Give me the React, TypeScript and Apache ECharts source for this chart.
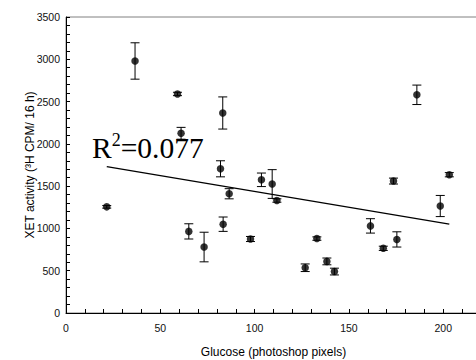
import React, { useEffect, useRef } from "react";
import * as echarts from "echarts";

// Glucose (photoshop pixels) for each sample
const glucose = [21.6, 36.6, 59.1, 61.0, 65.1, 73.2, 81.9, 83.1, 83.3, 86.5, 97.8, 103.6, 109.3, 111.8, 126.8, 133.0, 138.3, 142.3, 161.4, 168.2, 173.6, 175.4, 186.0, 198.4, 203.2];
// XET activity (3H CPM / 16 h)
const xet = [1255, 2980, 2590, 2125, 965, 780, 1705, 2365, 1050, 1410, 875, 1575, 1525, 1330, 535, 880, 610, 490, 1030, 765, 1560, 870, 2580, 1265, 1635];
// Error (±) for each value
const xetErr = [15, 215, 20, 70, 90, 175, 95, 190, 85, 60, 30, 80, 170, 20, 45, 20, 40, 40, 85, 25, 35, 90, 115, 125, 25];

// Linear fit endpoints
const fitX = [21.6, 203.2];
const fitY = [1731, 1052];

const r2Anchor = [13.8, 1957];

const xTickLabels = [0, 50, 100, 150, 200];
const yTickLabels = [0, 500, 1000, 1500, 2000, 2500, 3000, 3500];

const sansFont = "Liberation Sans, Arial, Helvetica, sans-serif";
const serifFont = "Liberation Serif, Times New Roman, serif";

export default function App() {
  const ref = useRef<HTMLDivElement>(null);

  useEffect(() => {
    if (!ref.current) return;
    const chart = echarts.init(ref.current, null, { renderer: "svg" });

    const points = glucose.map((g, i) => [g, xet[i]]);
    const errData = glucose.map((g, i) => [g, xet[i] - xetErr[i], xet[i] + xetErr[i]]);
    const fitData = fitX.map((x, i) => [x, fitY[i]]);

    const axisCommon = {
      axisLine: { show: true, onZero: false, lineStyle: { color: "#000", width: 1 } },
      axisTick: { show: true, inside: true, length: 4, lineStyle: { color: "#000", width: 1 } },
      splitLine: { show: false },
      nameMoveOverlap: false,
      nameTextStyle: { fontFamily: sansFont, fontSize: 12, color: "#000" },
    };

    chart.setOption({
      animation: false,
      backgroundColor: "#fff",
      grid: {
        left: 66,
        top: 17,
        width: 415,
        bottom: 47,
        outerBoundsMode: "none",
        containLabel: false,
        show: true,
        borderColor: "#808080",
        borderWidth: 1,
        backgroundColor: "transparent",
      },
      xAxis: {
        type: "value",
        min: 0,
        max: 220,
        interval: 10,
        name: "Glucose (photoshop pixels)",
        nameLocation: "middle",
        nameGap: 33,
        ...axisCommon,
        axisLabel: {
          fontFamily: sansFont,
          fontSize: 10.5,
          color: "#111",
          margin: 9,
          showMaxLabel: false,
          formatter: (v: number) => (xTickLabels.includes(v) ? String(v) : ""),
        },
      },
      yAxis: {
        type: "value",
        min: 0,
        max: 3500,
        interval: 100,
        name: "XET activity (³H CPM/ 16 h)",
        nameLocation: "middle",
        nameGap: 30,
        ...axisCommon,
        axisLabel: {
          fontFamily: sansFont,
          fontSize: 10.5,
          color: "#111",
          margin: 6,
          formatter: (v: number) => (yTickLabels.includes(v) ? String(v) : ""),
        },
      },
      series: [
        {
          type: "line",
          data: fitData,
          symbol: "none",
          lineStyle: { color: "#000", width: 1.3 },
          z: 2,
          silent: true,
        },
        {
          type: "custom",
          data: errData,
          z: 3,
          silent: true,
          renderItem: (params: any, api: any) => {
            const x = api.value(0);
            const lo = api.coord([x, api.value(1)]);
            const hi = api.coord([x, api.value(2)]);
            const cap = 4.5;
            const style = { stroke: "#000", lineWidth: 1 };
            return {
              type: "group",
              children: [
                { type: "line", shape: { x1: lo[0], y1: lo[1], x2: hi[0], y2: hi[1] }, style },
                { type: "line", shape: { x1: lo[0] - cap, y1: lo[1], x2: lo[0] + cap, y2: lo[1] }, style },
                { type: "line", shape: { x1: hi[0] - cap, y1: hi[1], x2: hi[0] + cap, y2: hi[1] }, style },
              ],
            };
          },
        },
        {
          type: "scatter",
          data: points,
          symbol: "circle",
          symbolSize: 7.5,
          itemStyle: { color: "#000" },
          z: 4,
        },
      ],
    });

    const p = chart.convertToPixel({ gridIndex: 0 }, r2Anchor) as number[];
    chart.setOption({
      graphic: [
        {
          type: "text",
          x: p[0],
          y: p[1],
          z: 10,
          style: {
            text: "{a|R}{s|2}{a|=0.077}",
            align: "left",
            verticalAlign: "middle",
            rich: {
              a: { fontFamily: serifFont, fontSize: 29.5, lineHeight: 32, fill: "#000", verticalAlign: "bottom" },
              s: { fontFamily: serifFont, fontSize: 18, lineHeight: 24, fill: "#000", verticalAlign: "top" },
            },
          },
        },
      ],
    });

    return () => chart.dispose();
  }, []);

  return (
    <div
      ref={ref}
      style={{ position: "fixed", left: 0, top: 0, width: 476, height: 360, background: "#fff" }}
    />
  );
}
